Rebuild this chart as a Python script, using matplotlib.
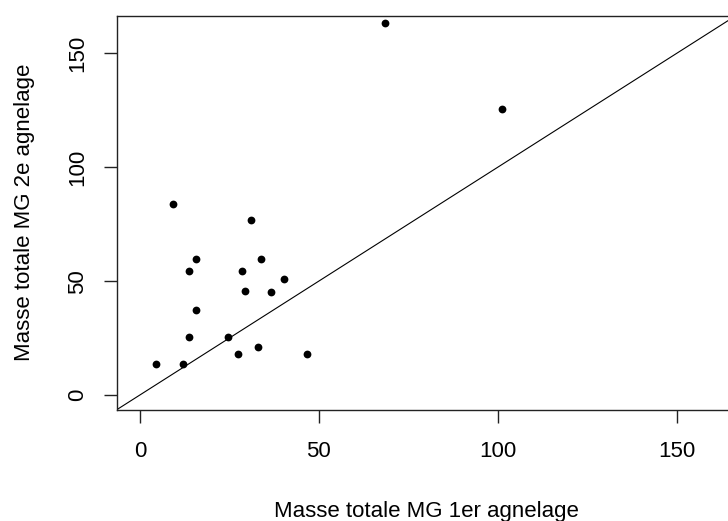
import matplotlib
matplotlib.use('Agg')
import matplotlib.pyplot as plt

# masse totale MG, 1er vs 2e agnelage
mg_1er = [4.5, 9.4, 12.1, 13.7, 13.7, 15.8, 15.8, 24.6, 27.4, 28.6, 29.5,
          31.1, 33.1, 33.9, 36.7, 40.4, 46.8, 68.5, 101.2]
mg_2e = [13.5, 83.7, 13.5, 54.6, 25.6, 59.7, 37.4, 25.6, 18.0, 54.6, 45.8,
         76.7, 21.2, 59.7, 45.1, 50.8, 18.0, 163.4, 125.4]
ticks = [0, 50, 100, 150]

plt.rcParams['font.family'] = ['Liberation Sans', 'DejaVu Sans']

fig = plt.figure(figsize=(7.28, 5.21), dpi=100)
ax = fig.add_axes([0.1606, 0.2138, 0.8495, 0.7555])

ax.plot(mg_1er, mg_2e, 'o', color='black', ms=5.6, mew=0)
ax.axline((0, 0), slope=1, color='black', lw=0.8)

ax.set_xlim(-6.4, 166.4)
ax.set_ylim(-6.4, 166.4)
ax.set_xticks(ticks)
ax.set_yticks(ticks)
for s in ax.spines.values():
    s.set_linewidth(1.0)
    s.set_color('#222222')
ax.tick_params(axis='both', direction='out', length=9.5, width=1.0,
               color='#222222', labelsize=16)
ax.tick_params(axis='x', pad=13)
ax.tick_params(axis='y', pad=11)
for lab in ax.get_yticklabels():
    lab.set_rotation(90)
    lab.set_va('center')

ax.set_xlabel('Masse totale MG 1er agnelage', fontsize=16)
ax.set_ylabel('Masse totale MG 2e agnelage', fontsize=16)
ax.xaxis.set_label_coords(0.5, -0.2594)
ax.xaxis.label.set_va('center')
ax.yaxis.set_label_coords(-0.150, 0.5)
ax.yaxis.label.set_va('center')

fig.savefig('out.png', dpi=100)
